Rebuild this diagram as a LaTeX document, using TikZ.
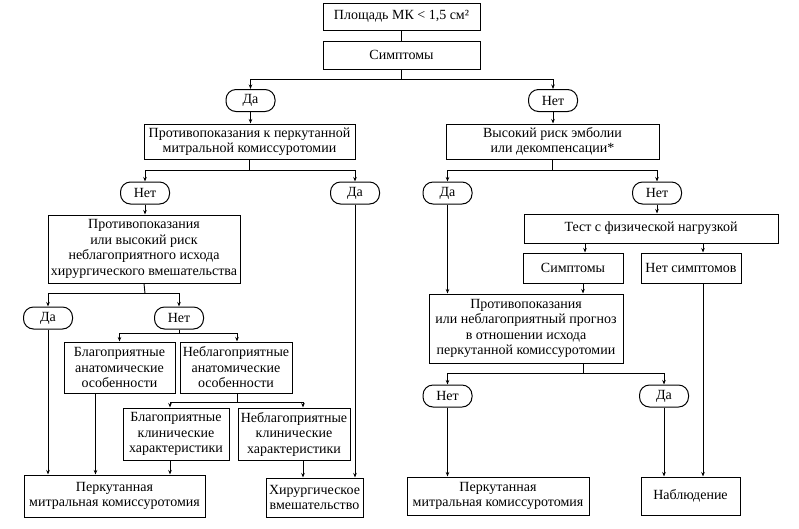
\documentclass[tikz,border=0pt]{standalone}
\usepackage{fontspec}
\setmainfont{Liberation Serif}
\usetikzlibrary{arrows.meta,calc}
\begin{document}
\begin{tikzpicture}[x=1pt,y=-1pt,
  every node/.style={font=\fontsize{14}{15.5}\selectfont},
  box/.style={draw,line width=1pt,align=center,inner sep=1pt},
  pill/.style={draw,line width=1pt,rounded corners=10pt,minimum width=49pt,minimum height=22pt,inner sep=1pt},
  arr/.style={-{Stealth[length=4.5pt,width=3.5pt]},line width=0.9pt},
  ln/.style={line width=0.9pt}]
\useasboundingbox (0,0) rectangle (799,528);
% nodes
\node[box,minimum width=157pt,minimum height=27pt] (top) at (401.5,16.5) {Площадь МК < 1,5 см²};
\node[box,minimum width=157pt,minimum height=28pt] (symp) at (401.5,55) {Симптомы};
\node[pill] (da1) at (250.5,100.5) {Да};
\node[pill] (net1) at (553,100.5) {Нет};
\node[box,minimum width=211pt,minimum height=35pt] (contra1) at (249.5,141.5) {Противопоказания к перкутанной\\митральной комиссуротомии};
\node[box,minimum width=213pt,minimum height=35pt] (risk) at (552.5,141.5) {Высокий риск эмболии\\или декомпенсации*};
\node[pill] (net2) at (145,193) {Нет};
\node[pill] (da2) at (355,193) {Да};
\node[pill] (da3) at (447.5,193) {Да};
\node[pill] (net3) at (657,193) {Нет};
\node[box,minimum width=192pt,minimum height=68pt] (contra2) at (144,249) {Противопоказания\\или высокий риск\\неблагоприятного исхода\\хирургического вмешательства};
\node[pill] (da4) at (48,318) {Да};
\node[pill] (net4) at (179,318) {Нет};
\node[box,minimum width=111pt,minimum height=51pt] (favanat) at (119.5,367.5) {Благоприятные\\анатомические\\особенности};
\node[box,minimum width=112pt,minimum height=51pt] (unfanat) at (236,367.5) {Неблагоприятные\\анатомические\\особенности};
\node[box,minimum width=106pt,minimum height=52pt] (favclin) at (176,434) {Благоприятные\\клинические\\характеристики};
\node[box,minimum width=112pt,minimum height=52pt] (unfclin) at (294,434) {Неблагоприятные\\клинические\\характеристики};
\node[box,minimum width=181pt,minimum height=42pt] (pmk1) at (114.5,496) {Перкутанная\\митральная комиссуротомия};
\node[box,minimum width=97pt,minimum height=39pt] (surg) at (314.5,497.5) {Хирургическое\\вмешательство};
\node[box,minimum width=254pt,minimum height=29pt] (test) at (651,228.5) {Тест с физической нагрузкой};
\node[box,minimum width=100pt,minimum height=30pt] (symp2) at (573,268) {Симптомы};
\node[box,minimum width=100pt,minimum height=30pt] (nosymp) at (691,268) {Нет симптомов};
\node[box,minimum width=194pt,minimum height=69pt] (contra3) at (526,328.5) {Противопоказания\\или неблагоприятный прогноз\\в отношении исхода\\перкутанной комиссуротомии};
\node[pill] (net5) at (447.5,396) {Нет};
\node[pill] (da5) at (664,396) {Да};
\node[box,minimum width=182pt,minimum height=38pt] (pmk2) at (498,496) {Перкутанная\\митральная комиссуротомия};
\node[box,minimum width=99pt,minimum height=38pt] (obs) at (690.5,496) {Наблюдение};
% junctions
\coordinate (j1) at ($(symp.south)+(0,10)$);
\coordinate (j2) at ($(contra1.south)+(0,11)$);
\coordinate (j3) at ($(risk.south)+(0,11)$);
\coordinate (j4) at ($(contra2.south)+(1,10)$);
\coordinate (j5) at ($(net4.south)+(0,4)$);
\coordinate (j6) at ($(unfanat.south)+(1,9)$);
\coordinate (j7) at ($([xshift=57pt]contra3.south)+(0,10)$);
% connectors
\draw[ln] (top.south) -- (symp.north);
\draw[ln] (symp.south) -- (j1);
\draw[arr] (j1) -| (da1.north);
\draw[arr] (j1) -| (net1.north);
\draw[arr] (da1.south) -- (da1.south |- contra1.north);
\draw[arr] (net1.south) -- (net1.south |- risk.north);
\draw[ln] (contra1.south) -- (j2);
\draw[arr] (j2) -| (net2.north);
\draw[arr] (j2) -| (da2.north);
\draw[ln] (risk.south) -- (j3);
\draw[arr] (j3) -| (da3.north);
\draw[arr] (j3) -| (net3.north);
\draw[arr] (net2.south) -- (net2.south |- contra2.north);
\draw[arr] (da3.south) -- (da3.south |- contra3.north);
\draw[arr] (net3.south) -- (net3.south |- test.north);
\draw[arr] ([xshift=12pt]symp2.north |- test.south) -- ([xshift=12pt]symp2.north);
\draw[arr] ([xshift=12pt]nosymp.north |- test.south) -- ([xshift=12pt]nosymp.north);
\draw[arr] ([xshift=10pt]symp2.south) -- ([xshift=10pt]symp2.south |- contra3.north);
\draw[arr] ([xshift=12pt]nosymp.south) -- ([xshift=12pt]nosymp.south |- obs.north);
\draw[ln] (contra2.south) -- (j4);
\draw[arr] (j4) -| (da4.north);
\draw[arr] (j4) -| (net4.north);
\draw[ln] (net4.south) -- (j5);
\draw[arr] (j5) -| (favanat.north);
\draw[arr] (j5) -| ([xshift=1pt]unfanat.north);
\draw[ln] ([xshift=1pt]unfanat.south) -- (j6);
\draw[arr] (j6) -| ([xshift=-6pt]favclin.north);
\draw[arr] (j6) -| ([xshift=9pt]unfclin.north);
\draw[arr] (da4.south) -- (da4.south |- pmk1.north);
\draw[arr] ([xshift=-24pt]favanat.south) -- ([xshift=-24pt]favanat.south |- pmk1.north);
\draw[arr] ([xshift=-6pt]favclin.south) -- ([xshift=-6pt]favclin.south |- pmk1.north);
\draw[arr] ([xshift=9pt]unfclin.south) -- ([xshift=9pt]unfclin.south |- surg.north);
\draw[arr] (da2.south) -- (da2.south |- surg.north);
\draw[ln] ([xshift=57pt]contra3.south) -- (j7);
\draw[arr] (j7) -| (net5.north);
\draw[arr] (j7) -| (da5.north);
\draw[arr] (net5.south) -- (net5.south |- pmk2.north);
\draw[arr] (da5.south) -- (da5.south |- obs.north);
\end{tikzpicture}
\end{document}
